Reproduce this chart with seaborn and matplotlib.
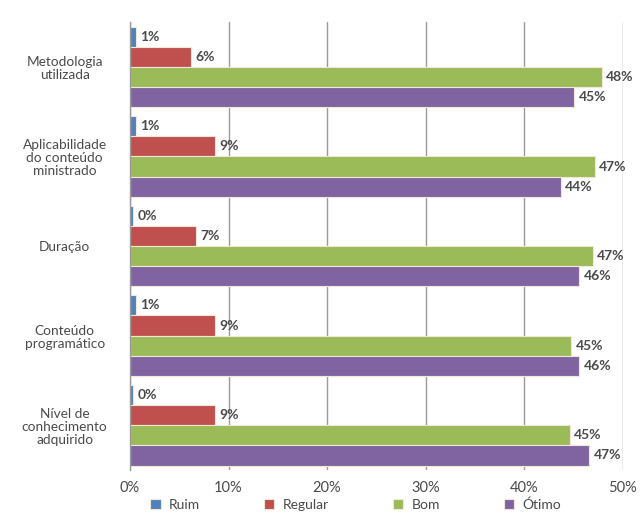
import matplotlib
matplotlib.use("Agg")
import matplotlib.pyplot as plt
import matplotlib.ticker as mticker
import seaborn as sns
import pandas as pd
import numpy as np

# Survey results: share of answers per rating for each course aspect (%)
categories = [
    "Metodologia\nutilizada",
    "Aplicabilidade\ndo conteúdo\nministrado",
    "Duração",
    "Conteúdo\nprogramático",
    "Nível de\nconhecimento\nadquirido",
]
ratings = ["Ruim", "Regular", "Bom", "Ótimo"]
ruim = [0.6, 0.6, 0.3, 0.6, 0.3]
regular = [6.2, 8.6, 6.7, 8.6, 8.6]
bom = [47.9, 47.2, 47.0, 44.8, 44.6]
otimo = [45.1, 43.7, 45.6, 45.6, 46.6]
x_ticks = [0, 10, 20, 30, 40, 50]

palette = ["#4f81bd", "#c0504d", "#9bbb59", "#8064a2"]

df = pd.DataFrame({
    "categoria": categories * 4,
    "avaliacao": np.repeat(ratings, len(categories)),
    "valor": ruim + regular + bom + otimo,
})

sns.set_theme(style="white")
plt.rcParams["font.family"] = ["Lato", "DejaVu Sans"]

fig = plt.figure(figsize=(6.42, 5.14), dpi=100)
ax = fig.add_axes([0.2025, 0.0856, 0.7675, 0.8714])

sns.barplot(
    data=df, y="categoria", x="valor", hue="avaliacao",
    order=categories, hue_order=ratings, palette=palette,
    orient="h", width=0.9, saturation=1, ax=ax,
    edgecolor="#f2e6d8", linewidth=0.8,
)

text_color = "#4a4a4a"
for container in ax.containers:
    labels = [f"{v:.0f}%" for v in container.datavalues]
    ax.bar_label(container, labels=labels, padding=3, fontsize=10,
                 fontweight="bold", color=text_color)

ax.set_xlim(0, 50)
ax.set_ylim(4.5, -0.5)
ax.set_xticks(x_ticks)
ax.xaxis.set_major_formatter(mticker.FuncFormatter(lambda v, _: f"{v:.0f}%"))
ax.tick_params(axis="x", length=0, pad=8, labelsize=10.5, labelcolor=text_color)
ax.grid(axis="x", color="#9a9a9a", linewidth=1)
ax.set_axisbelow(True)

ax.set_yticks(range(len(categories)))
ax.set_yticklabels(categories, ha="center", fontsize=9.8, color=text_color,
                   linespacing=1.1)
ax.tick_params(axis="y", length=0, pad=47)
ax.set_yticks(np.arange(-0.5, len(categories) + 0.5, 1), minor=True)
ax.tick_params(axis="y", which="minor", length=4, color="#9a9a9a", width=1)

ax.set_xlabel("")
ax.set_ylabel("")
for side in ["top", "right", "bottom"]:
    ax.spines[side].set_visible(False)
ax.spines["left"].set_color("#9a9a9a")
ax.spines["left"].set_linewidth(1)

ax.legend(
    loc="upper center", bbox_to_anchor=(0.458, -0.045), ncol=4, frameon=False,
    fontsize=10, labelcolor=text_color, handlelength=0.75, handleheight=0.75,
    columnspacing=4.6, handletextpad=0.6, borderpad=0.1,
)

fig.savefig("out.png", dpi=100)
